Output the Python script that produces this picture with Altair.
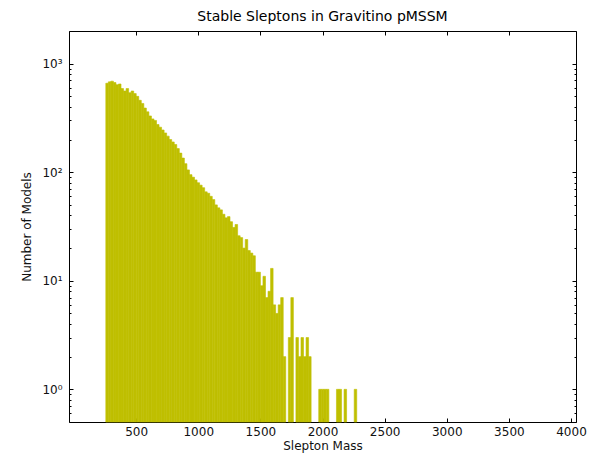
import altair as alt
import pandas as pd

# Histogram: bins of equal width starting at bin_start
bin_start = 256.0
bin_width = 20.4
counts = [
    660, 680, 690, 670, 640, 650, 590, 560, 590, 540,
    560, 530, 500, 460, 430, 390, 360, 330, 310, 300,
    275, 260, 245, 230, 215, 200, 190, 180, 165, 150,
    135, 120, 105, 95, 90, 85, 80, 76, 72, 66,
    64, 60, 56, 50, 47, 45, 41, 38, 39, 35,
    31, 33, 26, 25, 20, 24, 19, 18, 17, 12,
    12, 9, 11, 7, 8, 13, 6, 5, 6, 7,
    2, 0, 3, 7, 0, 3, 2, 3, 2, 3,
    2, 0, 0, 0, 1, 1, 1, 1, 0, 0,
    0, 1, 1, 0, 1, 0, 0, 0, 1, 0,
]

x_ticks = [500, 1000, 1500, 2000, 2500, 3000, 3500, 4000]
x_top_ticks = [500, 1000, 1500, 2000, 2500, 3000, 3500]
y_major = [1, 10, 100, 1000]
y_minor = [0.5, 0.6, 0.7, 0.8, 0.9,
           2, 3, 4, 5, 6, 7, 8, 9,
           20, 30, 40, 50, 60, 70, 80, 90,
           200, 300, 400, 500, 600, 700, 800, 900, 2000]

df = pd.DataFrame({
    "start": [bin_start + i * bin_width for i in range(len(counts))],
    "end": [bin_start + (i + 1) * bin_width for i in range(len(counts))],
    "count": counts,
})

FONT = "DejaVu Sans"
BAR = "#bfbf00"

xscale = alt.Scale(domain=[0, 4000], nice=False, zero=False)
yscale = alt.Scale(type="log", domain=[0.5, 2000], nice=False)

ylabel = ("datum.value == 1 ? '10⁰' : datum.value == 10 ? '10¹' : "
          "datum.value == 100 ? '10²' : datum.value == 1000 ? '10³' : ''")

base = alt.Chart(df).transform_filter("datum.count > 0")

bars = base.mark_bar(color=BAR, stroke=BAR, strokeWidth=0.6).encode(
    x=alt.X("start:Q", scale=xscale,
            axis=alt.Axis(orient="bottom", values=x_ticks, format="d",
                          title="Slepton Mass", offset=-4, tickSize=4,
                          domain=False, grid=False, labelPadding=4,
                          labelFontSize=12, titleFontSize=12,
                          titlePadding=3, labelFlush=False)),
    x2="end:Q",
    y=alt.Y("count:Q", scale=yscale,
            axis=alt.Axis(orient="left", values=y_major, labelExpr=ylabel,
                          title="Number of Models", offset=-4, tickSize=4,
                          domain=False, grid=False, labelPadding=7,
                          labelFontSize=12, titleFontSize=12,
                          titlePadding=8)),
    y2=alt.datum(0.5),
)

top_right = base.mark_bar(opacity=0).encode(
    x=alt.X("start:Q", scale=xscale,
            axis=alt.Axis(orient="top", values=x_top_ticks, labels=False,
                          title=None, offset=-4, tickSize=4, domain=False,
                          grid=False)),
    y=alt.Y("count:Q", scale=yscale,
            axis=alt.Axis(orient="right", values=y_major, labels=False,
                          title=None, offset=-4, tickSize=4, domain=False,
                          grid=False)),
)

minor_left = base.mark_bar(opacity=0).encode(
    x=alt.X("start:Q", scale=xscale, axis=None),
    y=alt.Y("count:Q", scale=yscale,
            axis=alt.Axis(orient="left", values=y_minor, labels=False,
                          title=None, offset=-2, tickSize=2, domain=False,
                          grid=False)),
)

minor_right = base.mark_bar(opacity=0).encode(
    x=alt.X("start:Q", scale=xscale, axis=None),
    y=alt.Y("count:Q", scale=yscale,
            axis=alt.Axis(orient="right", values=y_minor, labels=False,
                          title=None, offset=-2, tickSize=2, domain=False,
                          grid=False)),
)

chart = alt.layer(bars, top_right, minor_left, minor_right).resolve_axis(
    x="independent", y="independent"
).properties(
    width=507,
    height=391,
    autosize=alt.AutoSizeParams(type="none"),
    padding={"left": 69, "top": 31, "right": 29, "bottom": 36},
    title=alt.TitleParams("Stable Sleptons in Gravitino pMSSM", fontSize=14,
                          fontWeight="normal", font=FONT, offset=7,
                          color="black"),
).configure_view(
    stroke="black", strokeWidth=1
).configure_axis(
    labelFont=FONT, titleFont=FONT, labelColor="#111", titleColor="#111",
    tickColor="black", titleFontWeight="normal"
)

chart.save("out.html", embed_options={"renderer": "svg", "actions": False})
